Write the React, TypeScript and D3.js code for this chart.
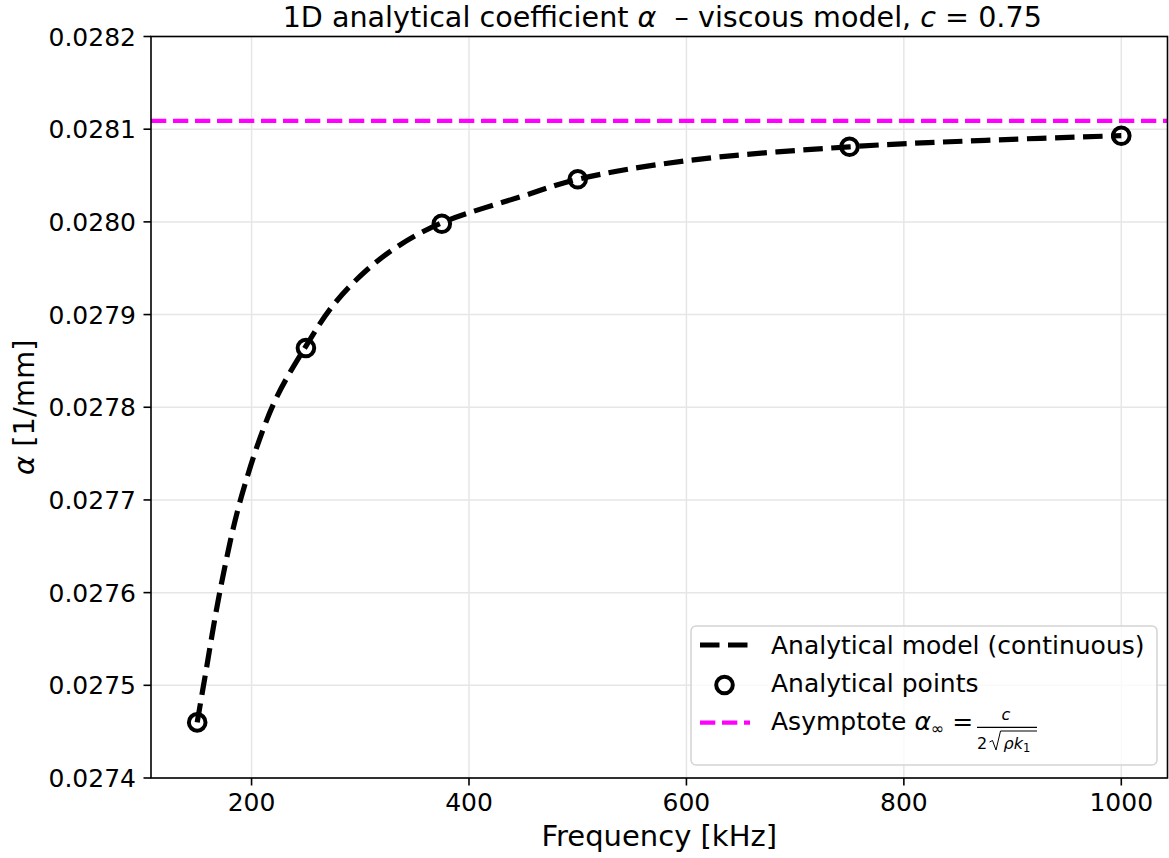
import React from 'react';
import * as d3 from 'd3';

// Continuous analytical model
const curveFreq = [150, 157, 172, 191, 220, 250, 275, 305, 335, 375, 450, 500, 600, 750, 875, 1000];
const curveAlpha = [0.02746, 0.027508, 0.027608, 0.027705, 0.027803, 0.027866, 0.02791, 0.027947, 0.027974, 0.027999, 0.028028, 0.028046, 0.028066, 0.028081, 0.028088, 0.028093];

// Discrete analytical points
const pointFreq = [150, 250, 375, 500, 750, 1000];
const pointAlpha = [0.02746, 0.027864, 0.027998, 0.028046, 0.028081, 0.028093];

// Asymptote value
const asymptoteAlpha = 0.028109;

// Ticks
const xTicks = [200, 400, 600, 800, 1000];
const yTicks = [0.0274, 0.0275, 0.0276, 0.0277, 0.0278, 0.0279, 0.028, 0.0281, 0.0282];

const xDomain = [107.5, 1042.5];
const yDomain = [0.0274, 0.0282];

export default function App() {
  const W = 1169, H = 858;
  const L = 151, R = 1167.5, T = 36.5, B = 778;
  const x = d3.scaleLinear().domain(xDomain).range([L, R]);
  const y = d3.scaleLinear().domain(yDomain).range([B, T]);

  const lineGen = d3
    .line<number>()
    .x((_, i) => x(curveFreq[i]))
    .y((d) => y(d))
    .curve(d3.curveCatmullRom.alpha(0.5));

  const font = "'DejaVu Sans', sans-serif";
  const tickFs = 25;
  const legFs = 25;
  const labelFs = 29;
  const titleFs = 28.6;
  const gridColor = '#e6e6e6';

  const blackDash = '19.5 8.5';
  const magDash = '15.3 6.7';

  return (
    <svg
      width={W}
      height={H}
      style={{ position: 'absolute', left: 0, top: 0, display: 'block', background: '#fff' }}
      fontFamily={font}
    >
      <rect x={0} y={0} width={W} height={H} fill="#fff" />
      <defs>
        <clipPath id="plotclip">
          <rect x={L} y={T} width={R - L} height={B - T} />
        </clipPath>
      </defs>

      {/* grid */}
      <g stroke={gridColor} strokeWidth={1.5}>
        {xTicks.map((t) => (
          <line key={'gx' + t} x1={x(t)} x2={x(t)} y1={T} y2={B} />
        ))}
        {yTicks.map((t) => (
          <line key={'gy' + t} x1={L} x2={R} y1={y(t)} y2={y(t)} />
        ))}
      </g>

      {/* data */}
      <g clipPath="url(#plotclip)">
        <line
          x1={L}
          x2={R}
          y1={y(asymptoteAlpha)}
          y2={y(asymptoteAlpha)}
          stroke="#ff00ff"
          strokeWidth={4.2}
          strokeDasharray={magDash}
        />
        <path
          d={lineGen(curveAlpha) || ''}
          fill="none"
          stroke="#000"
          strokeWidth={5.2}
          strokeDasharray={blackDash}
        />
        {pointFreq.map((f, i) => (
          <circle
            key={'p' + f}
            cx={x(f)}
            cy={y(pointAlpha[i])}
            r={8.3}
            fill="none"
            stroke="#000"
            strokeWidth={4}
          />
        ))}
      </g>

      {/* spines */}
      <rect x={L} y={T} width={R - L} height={B - T} fill="none" stroke="#000" strokeWidth={1.6} />

      {/* x ticks */}
      <g>
        {xTicks.map((t) => (
          <g key={'xt' + t}>
            <line x1={x(t)} x2={x(t)} y1={B} y2={B + 7.5} stroke="#000" strokeWidth={1.6} />
            <text x={x(t)} y={811} textAnchor="middle" fontSize={tickFs} fill="#000">
              {String(t)}
            </text>
          </g>
        ))}
      </g>

      {/* y ticks */}
      <g>
        {yTicks.map((t) => (
          <g key={'yt' + t}>
            <line x1={L - 7.5} x2={L} y1={y(t)} y2={y(t)} stroke="#000" strokeWidth={1.6} />
            <text x={136} y={y(t) + 9} textAnchor="end" fontSize={tickFs} fill="#000">
              {t.toFixed(4)}
            </text>
          </g>
        ))}
      </g>

      {/* axis labels */}
      <text x={(L + R) / 2} y={846} textAnchor="middle" fontSize={labelFs} fill="#000">
        Frequency [kHz]
      </text>
      <text
        transform={`translate(34, ${(T + B) / 2}) rotate(-90)`}
        textAnchor="middle"
        fontSize={labelFs}
        fill="#000"
        style={{ whiteSpace: 'pre' }}
      >
        <tspan fontStyle="italic">α</tspan>
        <tspan>{' [1/mm]'}</tspan>
      </text>

      {/* title */}
      <text x={(L + R) / 2 + 3} y={27} textAnchor="middle" fontSize={titleFs} fill="#000" style={{ whiteSpace: 'pre' }}>
        <tspan>1D analytical coefficient </tspan>
        <tspan fontStyle="italic">α</tspan>
        <tspan>{'  – viscous model, '}</tspan>
        <tspan fontStyle="italic">c</tspan>
        <tspan>{' = 0.75'}</tspan>
      </text>

      {/* legend */}
      <g>
        <rect
          x={691}
          y={626}
          width={466}
          height={139}
          rx={5}
          ry={5}
          fill="#fff"
          fillOpacity={0.8}
          stroke="#d4d4d4"
          strokeWidth={1.5}
        />
        <line x1={700} x2={749} y1={645} y2={645} stroke="#000" strokeWidth={5.2} strokeDasharray={blackDash} />
        <text x={771} y={654} fontSize={legFs} fill="#000">
          Analytical model (continuous)
        </text>
        <circle cx={724.5} cy={685} r={8.3} fill="none" stroke="#000" strokeWidth={4} />
        <text x={771} y={692} fontSize={legFs} fill="#000">
          Analytical points
        </text>
        <line x1={700} x2={750} y1={722.7} y2={722.7} stroke="#ff00ff" strokeWidth={4.2} strokeDasharray={magDash} />
        <text x={771} y={730} fontSize={legFs} fill="#000" style={{ whiteSpace: 'pre' }}>
          <tspan>{'Asymptote '}</tspan>
          <tspan fontStyle="italic">α</tspan>
          <tspan fontSize={16} dy={4}>∞</tspan>
          <tspan dy={-4}>{' = '}</tspan>
        </text>
        {/* fraction */}
        <line x1={977} x2={1037} y1={727.3} y2={727.3} stroke="#000" strokeWidth={1.2} />
        <text x={1001.5} y={720} fontSize={16} fill="#000" fontStyle="italic">
          c
        </text>
        <text x={977} y={749} fontSize={16} fill="#000">
          2
        </text>
        <path d="M989.5,742 L992.5,740.5 L996,750 L1000.5,731 L1037,731" fill="none" stroke="#000" strokeWidth={1} />
        <text x={1003.5} y={749} fontSize={16} fill="#000">
          <tspan fontStyle="italic">ρk</tspan>
          <tspan fontSize={11.5} dy={3}>1</tspan>
        </text>
      </g>
    </svg>
  );
}
